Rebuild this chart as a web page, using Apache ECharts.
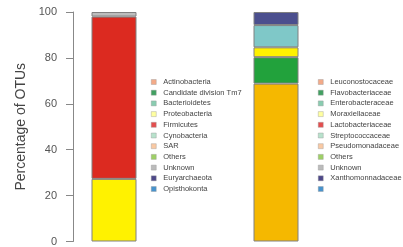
<!DOCTYPE html>
<html><head><meta charset="utf-8">
<script src="https://cdn.jsdelivr.net/npm/echarts@6/dist/echarts.min.js"></script>
<style>html,body{margin:0;padding:0;background:#fff}#c{width:403px;height:247px}</style>
</head><body><div id="c"></div>
<script>
const categories = ['Phylum', 'Family'];
const leftValues = [27.3, 70.7, 2.0];
const leftColors = ['#fff200', '#dc2a20', '#bdbdbd'];
const rightValues = [68.8, 11.5, 4.3, 9.7, 5.7];
const rightColors = ['#f5b800', '#22a23c', '#fff200', '#7fc8c8', '#4b4f8e'];
const yTicks = [0, 20, 40, 60, 80, 100];
const leftLegend = ['Actinobacteria', 'Candidate division Tm7', 'Bacterioidetes', 'Proteobacteria', 'Firmicutes', 'Cynobacteria', 'SAR', 'Others', 'Unknown', 'Euryarchaeota', 'Opisthokonta'];
const rightLegend = ['Leuconostocaceae', 'Flavobacteriaceae', 'Enterobacteraceae', 'Moraxiellaceae', 'Lactobacteriaceae', 'Streptococcaceae', 'Pseudomonadaceae', 'Others', 'Unknown', 'Xanthomonnadaceae', ' '];
const legendColors = ['#f0956a', '#12883a', '#6cbf9c', '#ffff88', '#dd2222', '#a6dbbf', '#f8bb8c', '#86c440', '#aaaaaa', '#201a6a', '#1a78c0'];

const chart = echarts.init(document.getElementById('c'), null, {renderer: 'canvas'});
const series = [];
const nSeg = Math.max(leftValues.length, rightValues.length);
for (let i = 0; i < nSeg; i++) {
  series.push({
    type: 'bar', name: 'seg' + i, stack: 'all', barWidth: 45,
    itemStyle: {borderColor: '#808080', borderWidth: 1},
    emphasis: {disabled: true},
    data: [
      i < leftValues.length ? {value: leftValues[i], itemStyle: {color: leftColors[i]}} : '-',
      i < rightValues.length ? {value: rightValues[i], itemStyle: {color: rightColors[i]}} : '-'
    ]
  });
}
const seen = {};
[leftLegend, rightLegend].forEach(list => list.forEach((n, i) => {
  if (seen[n]) return; seen[n] = true;
  series.push({type: 'scatter', name: n, data: [], itemStyle: {color: legendColors[i]}});
}));
const legendBase = {
  orient: 'vertical', top: 72, icon: 'rect', itemWidth: 5, itemHeight: 5, itemGap: 0.7,
  selectedMode: false,
  itemStyle: {borderColor: '#999', borderWidth: 0.5},
  textStyle: {fontSize: 7.5, color: '#444', fontFamily: 'Liberation Sans, Arial, sans-serif', lineHeight: 10, padding: [0, 0, 0, 2]}
};
chart.setOption({
  animation: false,
  grid: {left: 33, right: 46, top: 12, bottom: 3},
  xAxis: {type: 'category', data: categories, show: false},
  yAxis: {
    type: 'value', min: 0, max: 100, interval: 20, offset: -40,
    name: 'Percentage of OTUs', nameLocation: 'middle', nameGap: 42,
    nameTextStyle: {fontSize: 14, color: '#444', fontFamily: 'Liberation Sans, Arial, sans-serif'},
    axisLine: {show: true, lineStyle: {color: '#888', width: 1}},
    axisTick: {show: true, length: 7, lineStyle: {color: '#888'}},
    axisLabel: {margin: 16, fontSize: 11, color: '#555', fontFamily: 'Liberation Sans, Arial, sans-serif',
      formatter: v => yTicks.indexOf(v) >= 0 ? String(v) : ''},
    splitLine: {show: false}
  },
  legend: [
    Object.assign({}, legendBase, {left: 146, data: leftLegend}),
    Object.assign({}, legendBase, {left: 313, data: rightLegend})
  ],
  series: series
});
</script></body></html>
